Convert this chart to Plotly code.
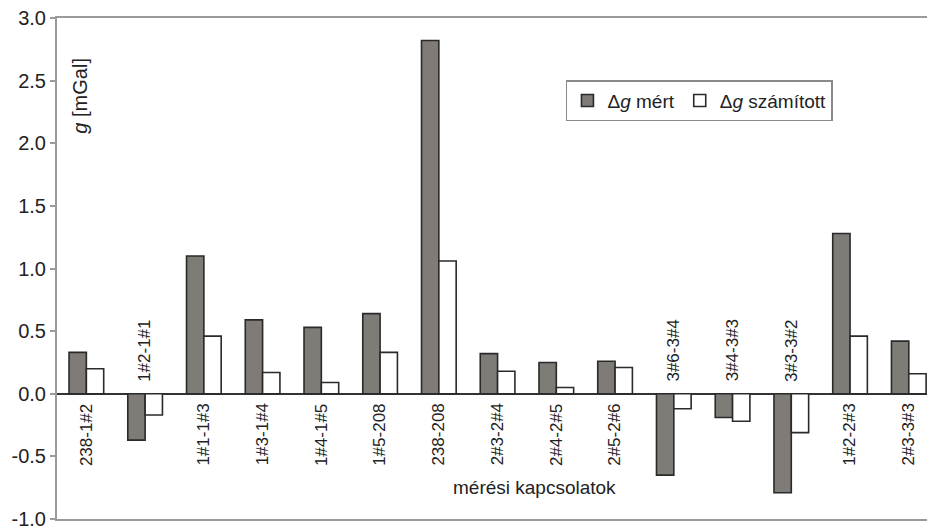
import plotly.graph_objects as go

categories = ["238-1#2", "1#2-1#1", "1#1-1#3", "1#3-1#4", "1#4-1#5", "1#5-208", "238-208",
              "2#3-2#4", "2#4-2#5", "2#5-2#6", "3#6-3#4", "3#4-3#3", "3#3-3#2", "1#2-2#3", "2#3-3#3"]
meas = [0.33, -0.37, 1.10, 0.59, 0.53, 0.64, 2.82, 0.32, 0.25, 0.26, -0.65, -0.19, -0.79, 1.28, 0.42]
calc = [0.20, -0.17, 0.46, 0.17, 0.09, 0.33, 1.06, 0.18, 0.05, 0.21, -0.12, -0.22, -0.31, 0.46, 0.16]
y_ticks = [-1.0, -0.5, 0.0, 0.5, 1.0, 1.5, 2.0, 2.5, 3.0]

FONT = "Arial, Liberation Sans, sans-serif"
xs = list(range(len(categories)))

fig = go.Figure()
fig.add_trace(go.Bar(x=xs, y=meas, name="Δ<i>g</i> mért",
                     marker=dict(color="#7f7b77", line=dict(color="#2a2a2a", width=1.6))))
fig.add_trace(go.Bar(x=xs, y=calc, name="Δ<i>g</i> számított",
                     marker=dict(color="white", line=dict(color="#2a2a2a", width=1.6))))

annotations = []
for i, (c, m) in enumerate(zip(categories, meas)):
    if m >= 0:
        annotations.append(dict(x=i, y=0, xref="x", yref="y", text=c, textangle=-90,
                                showarrow=False, xanchor="center", yanchor="top", yshift=-8,
                                font=dict(family=FONT, size=17, color="#222")))
    else:
        annotations.append(dict(x=i, y=0, xref="x", yref="y", text=c, textangle=-90,
                                showarrow=False, xanchor="center", yanchor="bottom", yshift=10,
                                font=dict(family=FONT, size=17, color="#222")))

annotations.append(dict(x=0.027, y=0.846, xref="paper", yref="paper", text="<i>g</i> [mGal]",
                        textangle=-90, showarrow=False, xanchor="center", yanchor="middle",
                        font=dict(family=FONT, size=20, color="#222")))
annotations.append(dict(x=0.549, y=-0.75, xref="paper", yref="y", text="mérési kapcsolatok",
                        showarrow=False, xanchor="center", yanchor="middle",
                        font=dict(family=FONT, size=19, color="#222")))

fig.update_layout(
    width=927, height=526,
    margin=dict(l=57, r=0, t=18, b=7, autoexpand=False),
    paper_bgcolor="white", plot_bgcolor="white",
    barmode="group", bargap=0.41, bargroupgap=0,
    font=dict(family=FONT, size=18, color="#222"),
    showlegend=True,
    legend=dict(orientation="h", x=0.585, y=0.876, xanchor="left", yanchor="top",
                bordercolor="#8a8a8a", borderwidth=1.5, bgcolor="white",
                font=dict(family=FONT, size=19, color="#222"),
                itemwidth=30, traceorder="normal"),
    annotations=annotations,
)
fig.update_xaxes(range=[-0.5, 14.31], showticklabels=False, ticks="", showgrid=False,
                 showline=True, linecolor="#9a9a9a", linewidth=2, mirror=True, zeroline=False,
                 automargin=False)
fig.update_yaxes(range=[-1.0, 3.0], tickvals=y_ticks, ticktext=[f"{v:.1f}" for v in y_ticks],
                 ticks="outside", ticklen=5, tickcolor="#9a9a9a", tickwidth=1.5,
                 showgrid=False, showline=True, linecolor="#9a9a9a", linewidth=2,
                 zeroline=True, zerolinecolor="#333", zerolinewidth=1.5,
                 ticklabeloverflow="allow", automargin=False,
                 tickfont=dict(family=FONT, size=20, color="#222"))

fig.write_html("out.html", config={"displayModeBar": False},
               post_script="document.body.style.margin='0';document.body.style.overflow='hidden';")
